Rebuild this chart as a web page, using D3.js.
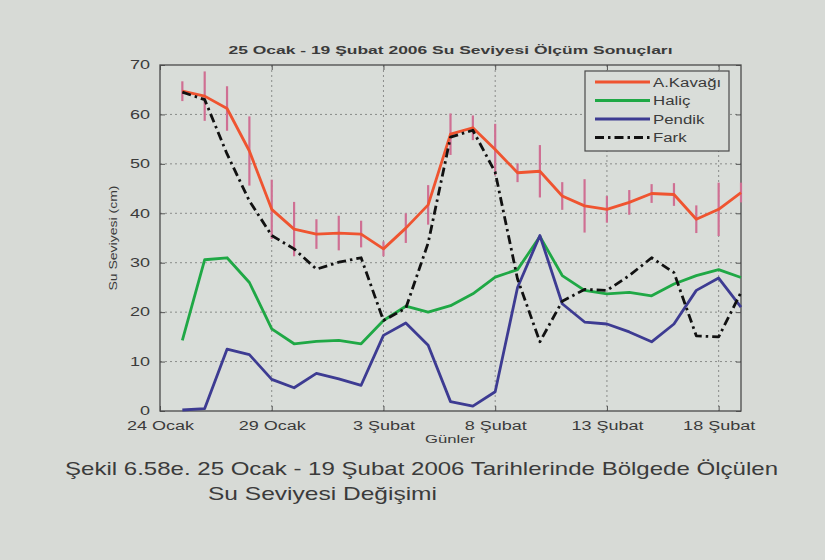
<!DOCTYPE html>
<html>
<head>
<meta charset="utf-8">
<script src="https://cdn.jsdelivr.net/npm/d3@7"></script>
<style>
  body { margin: 0; background: #d7dad6; }
  svg { display: block; }
  text { font-family: "Liberation Sans", Arial, sans-serif; fill: #3b3b3b; }
</style>
</head>
<body>
<svg id="chart"></svg>
<script>
// gün (24 Ocak = 0)
const days = [1, 2, 3, 4, 5, 6, 7, 8, 9, 10, 11, 12, 13, 14, 15, 16, 17, 18, 19, 20, 21, 22, 23, 24, 25, 26]
const kavagi = [64.7, 63.7, 61.2, 52.6, 40.8, 36.8, 35.8, 36.0, 35.8, 32.8, 37.0, 41.7, 56.0, 57.3, 52.9, 48.2, 48.5, 43.5, 41.5, 40.8, 42.2, 44.0, 43.8, 38.8, 40.8, 44.2]
const kavagiErr = [2, 5, 4.5, 7, 6, 5.5, 3, 3.5, 2.7, 1.5, 3, 4, 4.2, 2.5, 5.2, 1.9, 5.3, 2.8, 5.4, 2.7, 2.5, 1.9, 2.3, 2.8, 5.4, 2]
const halic = [14.3, 30.6, 31.0, 26.0, 16.6, 13.6, 14.1, 14.3, 13.6, 18.3, 21.2, 20.0, 21.3, 23.7, 27.1, 28.6, 35.3, 27.4, 24.4, 23.7, 24.0, 23.3, 25.7, 27.4, 28.6, 27.0]
const pendik = [0.2, 0.5, 12.5, 11.4, 6.4, 4.7, 7.6, 6.5, 5.2, 15.3, 17.8, 13.3, 1.9, 1.0, 3.9, 25.0, 35.5, 21.7, 18.0, 17.6, 16.0, 14.0, 17.6, 24.4, 26.9, 21.0]
const fark = [64.5, 63.0, 52.0, 42.5, 35.5, 32.8, 28.7, 30.1, 31.0, 18.3, 20.8, 34.0, 55.4, 56.8, 48.3, 26.7, 14.0, 22.2, 24.6, 24.4, 27.4, 31.0, 28.0, 15.2, 15.0, 24.0]

const xTicks = [0, 5, 10, 15, 20, 25]
const xTickText = ['24 Ocak', '29 Ocak', '3 Şubat', '8 Şubat', '13 Şubat', '18 Şubat']
const yTicks = [0, 10, 20, 30, 40, 50, 60, 70]
const seriesNames = ['A.Kavağı', 'Haliç', 'Pendik', 'Fark']

const totalWidth = 825, totalHeight = 560
const margin = { top: 65, right: 84, bottom: 149, left: 160 },
  chartWidth = totalWidth - margin.left - margin.right,
  chartHeight = totalHeight - margin.top - margin.bottom
const SX = 1.5 // figure is stretched sideways in the photo

const colors = { kavagi: '#ef5430', halic: '#1fa845', pendik: '#3d3b92', fark: '#111', err: '#cf6f93' }

const svg = d3.select('#chart').attr('width', totalWidth).attr('height', totalHeight)
svg.append('rect').attr('width', totalWidth).attr('height', totalHeight).attr('fill', '#d7dad6')

const chart = svg.append('g').attr('transform', 'translate(' + margin.left + ',' + margin.top + ')')

const x = d3.scaleLinear().domain([0, 26]).range([0, chartWidth])
const y = d3.scaleLinear().domain([0, 70]).range([chartHeight, 0])

function stretch(sel, k) {
  sel.each(function() {
    const w = this.getComputedTextLength()
    d3.select(this).attr('textLength', w * k).attr('lengthAdjust', 'spacingAndGlyphs')
  })
}

chart.append('rect').attr('width', chartWidth).attr('height', chartHeight).attr('fill', '#d9ddd9')

// grid
chart.append('g').selectAll('line').data(yTicks.slice(1, -1)).enter().append('line')
  .attr('x1', 0).attr('x2', chartWidth).attr('y1', d => y(d)).attr('y2', d => y(d))
  .attr('stroke', '#8a8c8a').attr('stroke-width', 1).attr('stroke-dasharray', '2,3')
chart.append('g').selectAll('line').data(xTicks.slice(1)).enter().append('line')
  .attr('x1', d => x(d)).attr('x2', d => x(d)).attr('y1', 0).attr('y2', chartHeight)
  .attr('stroke', '#8a8c8a').attr('stroke-width', 1).attr('stroke-dasharray', '2,3')

// axes
const yAxis = d3.axisLeft(y).tickValues(yTicks).tickSize(-5).tickPadding(10)
const xAxis = d3.axisBottom(x).tickValues(xTicks).tickSize(-5).tickPadding(10)
  .tickFormat((d, i) => xTickText[i])

const gy = chart.append('g').call(yAxis)
const gx = chart.append('g').attr('transform', 'translate(0,' + chartHeight + ')').call(xAxis)
chart.append('g').call(d3.axisRight(y).tickValues(yTicks).tickSize(-5).tickFormat(''))
  .attr('transform', 'translate(' + chartWidth + ',0)')
chart.append('g').call(d3.axisTop(x).tickValues(xTicks).tickSize(-5).tickFormat(''))

chart.selectAll('.domain').remove()
chart.selectAll('.tick line').attr('stroke', '#555')
chart.append('rect').attr('width', chartWidth).attr('height', chartHeight)
  .attr('fill', 'none').attr('stroke', '#4a4a4a').attr('stroke-width', 1.3)

gy.selectAll('text').style('font-size', '12px').attr('fill', '#3b3b3b').call(stretch, SX)
gx.selectAll('text').style('font-size', '12px').attr('fill', '#3b3b3b').attr('dy', '0.72em').call(stretch, SX)

// error bars
chart.append('g').selectAll('line').data(days).enter().append('line')
  .attr('x1', d => x(d)).attr('x2', d => x(d))
  .attr('y1', (d, i) => y(kavagi[i] - kavagiErr[i]))
  .attr('y2', (d, i) => y(kavagi[i] + kavagiErr[i]))
  .attr('stroke', colors.err).attr('stroke-width', 2.2)

function drawLine(vals, color, dash) {
  const line = d3.line().x((d, i) => x(days[i])).y(d => y(d))
  chart.append('path').datum(vals).attr('d', line)
    .attr('fill', 'none').attr('stroke', color).attr('stroke-width', 2.8)
    .attr('stroke-linejoin', 'round')
    .attr('stroke-dasharray', dash || null)
}
drawLine(kavagi, colors.kavagi)
drawLine(halic, colors.halic)
drawLine(pendik, colors.pendik)
drawLine(fark, colors.fark, '9,4,2.5,4')

// legend
const legend = svg.append('g').attr('transform', 'translate(585,71)')
legend.append('rect').attr('width', 144).attr('height', 80)
  .attr('fill', '#d9ddd9').attr('stroke', '#4a4a4a').attr('stroke-width', 1.2)
const legendColors = [colors.kavagi, colors.halic, colors.pendik, colors.fark]
seriesNames.forEach((name, i) => {
  const row = 11 + i * 18.5
  legend.append('line').attr('x1', 10).attr('x2', 65).attr('y1', row).attr('y2', row)
    .attr('stroke', legendColors[i]).attr('stroke-width', 3)
    .attr('stroke-dasharray', i === 3 ? '9,4,2.5,4' : null)
  legend.append('text').attr('x', 68).attr('y', row + 4.5).style('font-size', '12px').text(name).call(stretch, 1.4)
})

// title and labels
svg.append('text').attr('x', margin.left + chartWidth / 2).attr('y', 54)
  .attr('text-anchor', 'middle').style('font-size', '11.5px').style('font-weight', 'bold')
  .attr('fill', '#262626').text('25 Ocak - 19 Şubat 2006 Su Seviyesi Ölçüm Sonuçları')
  .attr('textLength', 444).attr('lengthAdjust', 'spacingAndGlyphs')

svg.append('text').attr('transform', 'translate(117,238) rotate(-90)')
  .attr('text-anchor', 'middle').style('font-size', '11px')
  .text('Su Seviyesi (cm)').attr('textLength', 105).attr('lengthAdjust', 'spacingAndGlyphs')

svg.append('text').attr('x', 450).attr('y', 443).attr('text-anchor', 'middle')
  .style('font-size', '11px').text('Günler').attr('textLength', 50).attr('lengthAdjust', 'spacingAndGlyphs')

// caption
svg.append('text').attr('x', 65).attr('y', 475).style('font-size', '19px').attr('fill', '#2a2a2a')
  .text('Şekil 6.58e. 25 Ocak - 19 Şubat 2006 Tarihlerinde Bölgede Ölçülen')
  .attr('textLength', 713).attr('lengthAdjust', 'spacingAndGlyphs')
svg.append('text').attr('x', 208).attr('y', 500).style('font-size', '19px').attr('fill', '#2a2a2a')
  .text('Su Seviyesi Değişimi')
  .attr('textLength', 229).attr('lengthAdjust', 'spacingAndGlyphs')
</script>
</body>
</html>
